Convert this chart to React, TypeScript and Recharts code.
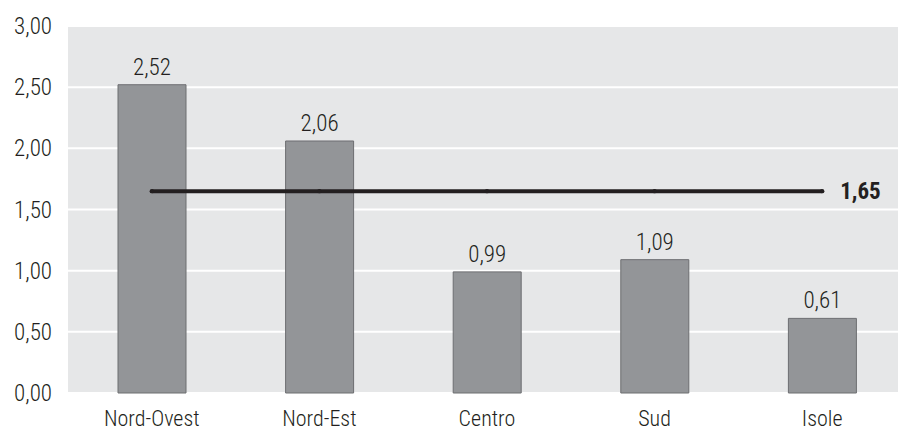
import { ComposedChart, Bar, Line, XAxis, YAxis, CartesianGrid, LabelList } from "recharts";

const regions = ["Nord-Ovest", "Nord-Est", "Centro", "Sud", "Isole"];
const values = [2.52, 2.06, 0.99, 1.09, 0.61];
const media = 1.65;
const yTicks = [0, 0.5, 1, 1.5, 2, 2.5, 3];

const data = regions.map((name, i) => ({ name, value: values[i], media }));

const FONT = "'Liberation Sans Narrow', 'Roboto Condensed', 'Liberation Sans', Arial, sans-serif";
const TEXT = "#231f20";
const SIZE = 23;

const fmt = (v: number) => v.toFixed(2).replace(".", ",");

const MediaLabel = (props: any) => {
  const { x, y, index } = props;
  if (index !== regions.length - 1) return null;
  return (
    <text
      x={x + 18}
      y={y}
      dy="0.36em"
      fill={TEXT}
      fontFamily={FONT}
      fontSize={SIZE}
      fontWeight="bold"
      textAnchor="start"
    >
      {fmt(media)}
    </text>
  );
};

export default function App() {
  return (
    <div style={{ position: "absolute", left: 0, top: 0, width: 898, height: 432, overflow: "hidden", background: "#fff" }}>
      <ComposedChart
        width={906}
        height={432}
        data={data}
        margin={{ top: 26, right: 0, bottom: 0, left: 0 }}
        barSize={68}
      >
        <CartesianGrid vertical={false} stroke="#ffffff" strokeWidth={2} fill="#e6e7e8" />
        <XAxis
          dataKey="name"
          axisLine={false}
          tickLine={false}
          height={39}
          tickMargin={11}
          tick={{ fill: TEXT, fontFamily: FONT, fontSize: 22, fontWeight: 300 }}
        />
        <YAxis
          domain={[0, 3]}
          ticks={yTicks}
          width={68}
          axisLine={false}
          tickLine={false}
          tickMargin={10}
          tickFormatter={fmt}
          tick={{ fill: TEXT, fontFamily: FONT, fontSize: SIZE, fontWeight: 300 }}
        />
        <Bar dataKey="value" fill="#939598" stroke="#6d6e71" strokeWidth={1} isAnimationActive={false}>
          <LabelList
            dataKey="value"
            position="top"
            offset={10}
            formatter={(v: any) => fmt(Number(v))}
            style={{ fill: TEXT, fontFamily: FONT, fontSize: SIZE, fontWeight: 300 }}
          />
        </Bar>
        <Line
          dataKey="media"
          stroke={TEXT}
          strokeWidth={4}
          dot={{ r: 2.2, fill: TEXT, stroke: "none" }}
          activeDot={false}
          isAnimationActive={false}
          label={<MediaLabel />}
        />
      </ComposedChart>
    </div>
  );
}
